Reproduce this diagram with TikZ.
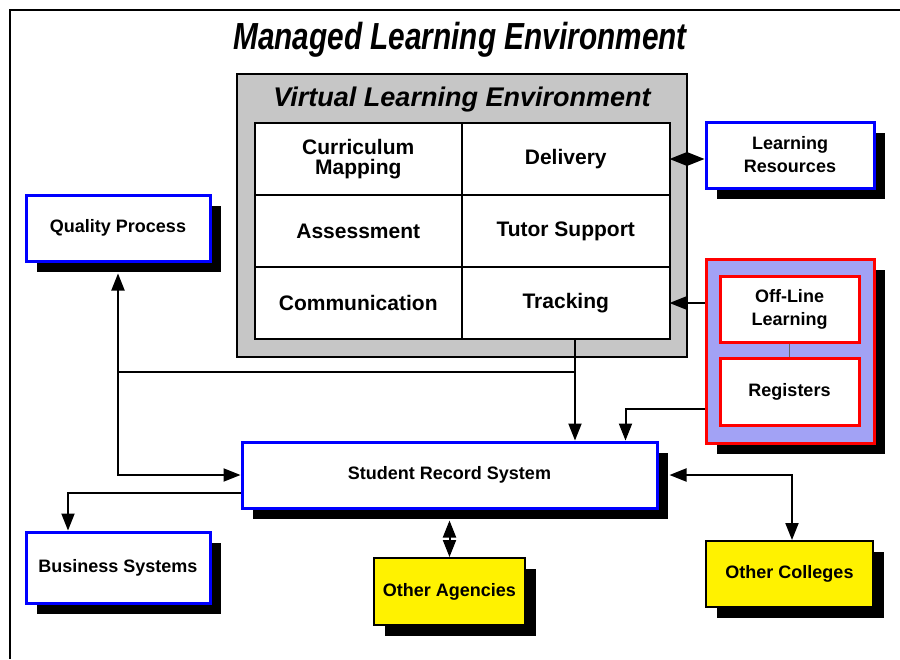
\documentclass[tikz,border=0pt]{standalone}
\usepackage{fontspec}
\setmainfont{Liberation Sans}
\newfontfamily\narrowfont[FakeStretch=0.79]{Liberation Sans}
\usepackage{tikz}
\usetikzlibrary{arrows.meta, shadows, positioning}
\definecolor{vlegray}{RGB}{198,198,198}
\definecolor{offfill}{RGB}{162,162,245}
\tikzstyle{shadowed} = [drop shadow={shadow xshift=11pt, 
shadow yshift=-11pt, 
fill=black, 
opacity=1}]
\tikzstyle{bluebox} = [rectangle, shadowed, 
minimum width=184pt, 
minimum height=66pt, 
align=center, 
draw=blue, line width=3pt, 
fill=white, 
font=\fontsize{18}{23}\selectfont\bfseries]
\tikzstyle{yellowbox} = [rectangle, shadowed, 
minimum width=151pt, 
minimum height=67pt, 
align=center, 
draw=black, line width=2pt, 
fill=yellow, 
font=\fontsize{18}{23}\selectfont\bfseries]
\tikzstyle{redbox} = [rectangle, 
minimum width=139pt, 
minimum height=66pt, 
align=center, 
draw=red, line width=3pt, 
fill=white, 
font=\fontsize{18}{23}\selectfont\bfseries]
\tikzstyle{cell} = [rectangle, 
minimum width=207.5pt, 
minimum height=72pt, 
inner sep=0pt, outer sep=0pt, 
align=center, 
draw=black, line width=2pt, 
fill=white, 
font=\fontsize{21}{20}\selectfont\bfseries]
\tikzstyle{arrow} = [line width=2pt, -{Triangle[length=17pt,width=13pt]}]
\tikzstyle{dblarrow} = [line width=2pt, 
{Triangle[length=17pt,width=13pt]}-{Triangle[length=17pt,width=13pt]}]

\begin{document}
\begin{tikzpicture}[x=1pt, y=-1pt]
\useasboundingbox (0,0) rectangle (900,659);
\draw [line width=2pt] (900,10) -- (10,10) -- (10,659);

\node (title) at (460,40) {\narrowfont\bfseries\itshape\fontsize{37.7}{40}\selectfont Managed Learning Environment};

% virtual learning environment
\node (vle) [rectangle, draw=black, line width=2pt, fill=vlegray, 
minimum width=450pt, minimum height=283pt] at (462,215.5) {};
\node (vletitle) at (462,100) {\bfseries\itshape\fontsize{27}{30}\selectfont Virtual Learning Environment};
\node (curriculum) [cell] at (358.25,159) {Curriculum\\Mapping};
\node (delivery) [cell, right=0pt of curriculum] {Delivery};
\node (assessment) [cell, below=0pt of curriculum] {Assessment};
\node (tutor) [cell, right=0pt of assessment] {Tutor Support};
\node (communication) [cell, below=0pt of assessment] {Communication};
\node (tracking) [cell, right=0pt of communication] {Tracking};

\node (resources) [bluebox, minimum width=168pt] at (790,155) {Learning\\Resources};
\node (offgroup) [rectangle, shadowed, draw=red, line width=3pt, fill=offfill, 
minimum width=168pt, minimum height=184pt] at (790,351) {};
\node (offline) [redbox] at (789.5,309) {Off-Line\\Learning};
\node (registers) [redbox, minimum height=67pt] at (789.5,391.5) {Registers};

\node (quality) [bluebox] at (118,228) {Quality Process};
\node (srs) [bluebox, minimum width=415pt] at (449.5,475) {Student Record System};
\node (business) [bluebox, minimum height=71pt] at (118,567.5) {Business Systems};
\node (agencies) [yellowbox] at (449.5,591.5) {Other Agencies};
\node (colleges) [yellowbox, minimum width=167pt, minimum height=66pt] at (789.5,574) {Other Colleges};

\coordinate (tap) at (575,372);

\draw [line width=0.8pt, black!60] (offline.south) -- (registers.north);
\draw [dblarrow] (delivery.east) -- (delivery.east -| resources.west);
\draw [arrow] (tracking.east -| offgroup.west) -- (tracking.east);
\draw [arrow] ([yshift=-17.5pt]registers.west -| offgroup.west) -| ([xshift=-33pt]srs.north east);
\draw [arrow] (tracking.south -| tap) -- (srs.north -| tap);
\draw [arrow] (tap) -| ([yshift=-11pt]quality.south);
\draw [arrow] (tap -| quality.south) |- (srs.west);
\draw [arrow] ([yshift=-18pt]srs.west) -| ([xshift=-50pt]business.north);
\draw [dblarrow] ([yshift=-11pt]srs.south) -- (agencies.north);
\draw [dblarrow] ([xshift=11pt]srs.east) -| ([xshift=2.5pt]colleges.north);
\end{tikzpicture}
\end{document}
